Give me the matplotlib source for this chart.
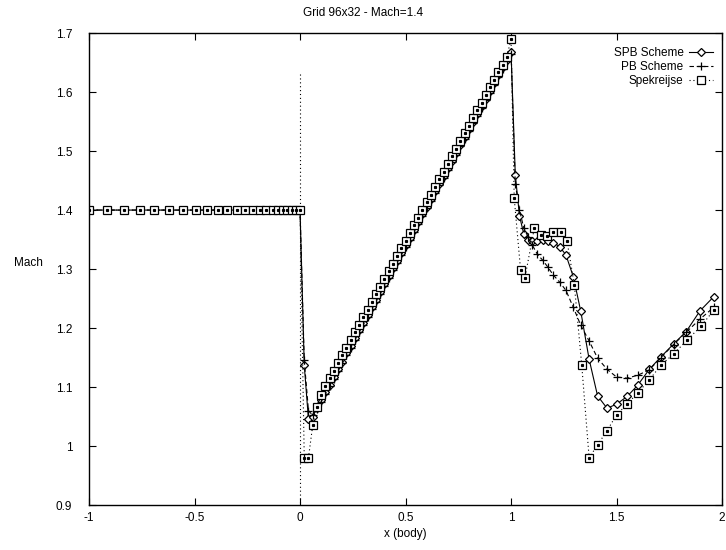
import matplotlib
matplotlib.use("Agg")
import matplotlib.pyplot as plt
from matplotlib.ticker import FuncFormatter

plt.rcParams["font.family"] = ["Liberation Sans", "DejaVu Sans"]

# grid stations upstream of the body (clustered toward x=0)
x_up = [-1.0, -0.915, -0.835, -0.76, -0.69, -0.62, -0.555, -0.495, -0.44, -0.39,
        -0.345, -0.30, -0.26, -0.225, -0.19, -0.16, -0.13, -0.105, -0.08, -0.06,
        -0.04, -0.02, 0.0]
mach_up = [1.4] * len(x_up)

# stations on the body
x_body = [0.02, 0.04, 0.06, 0.08, 0.10, 0.12, 0.14, 0.16, 0.18, 0.20,
          0.22, 0.24, 0.26, 0.28, 0.30, 0.32, 0.34, 0.36, 0.38, 0.40,
          0.42, 0.44, 0.46, 0.48, 0.50, 0.52, 0.54, 0.56, 0.58, 0.60,
          0.62, 0.64, 0.66, 0.68, 0.70, 0.72, 0.74, 0.76, 0.78, 0.80,
          0.82, 0.84, 0.86, 0.88, 0.90, 0.92, 0.94, 0.96, 0.98, 1.00]

# stations downstream of the body
x_down = [1.02, 1.04, 1.06, 1.08, 1.10, 1.125, 1.15, 1.175, 1.20, 1.23,
          1.26, 1.295, 1.33, 1.37, 1.41, 1.455, 1.50, 1.55, 1.60, 1.655,
          1.71, 1.77, 1.83, 1.895, 1.96]
spek_x_down = [1.015, 1.045, 1.065, 1.11, 1.14, 1.17, 1.20, 1.235, 1.265, 1.30,
               1.335, 1.37, 1.41, 1.455, 1.50, 1.55, 1.60, 1.655, 1.71, 1.77,
               1.835, 1.90, 1.96]

spb_body = [1.137, 1.045, 1.050, 1.065, 1.078, 1.091, 1.104, 1.117, 1.130, 1.143,
            1.157, 1.170, 1.183, 1.196, 1.209, 1.222, 1.235, 1.248, 1.261, 1.275,
            1.288, 1.301, 1.314, 1.327, 1.340, 1.353, 1.366, 1.379, 1.393, 1.406,
            1.419, 1.432, 1.445, 1.458, 1.471, 1.484, 1.497, 1.511, 1.524, 1.537,
            1.550, 1.563, 1.576, 1.589, 1.602, 1.615, 1.629, 1.642, 1.655, 1.668]
spb_down = [1.46, 1.39, 1.36, 1.35, 1.347, 1.348, 1.349, 1.348, 1.345, 1.338,
            1.324, 1.287, 1.229, 1.147, 1.085, 1.064, 1.071, 1.084, 1.103, 1.130,
            1.151, 1.173, 1.194, 1.229, 1.253]

pb_body = [1.145, 1.060, 1.052, 1.062, 1.075, 1.088, 1.101, 1.114, 1.127, 1.140,
           1.154, 1.167, 1.180, 1.193, 1.206, 1.219, 1.232, 1.245, 1.258, 1.272,
           1.285, 1.298, 1.311, 1.324, 1.337, 1.350, 1.363, 1.376, 1.390, 1.403,
           1.416, 1.429, 1.442, 1.455, 1.468, 1.481, 1.494, 1.508, 1.521, 1.534,
           1.547, 1.560, 1.573, 1.586, 1.599, 1.612, 1.626, 1.639, 1.652, 1.665]
pb_down = [1.445, 1.40, 1.37, 1.355, 1.341, 1.325, 1.315, 1.303, 1.290, 1.278,
           1.264, 1.235, 1.205, 1.178, 1.149, 1.130, 1.117, 1.115, 1.120, 1.129,
           1.150, 1.172, 1.193, 1.215, 1.235]

spek_body = [0.98, 0.98, 1.035, 1.066, 1.086, 1.102, 1.115, 1.128, 1.141, 1.154,
             1.167, 1.180, 1.193, 1.206, 1.219, 1.231, 1.244, 1.257, 1.270, 1.283,
             1.296, 1.309, 1.322, 1.335, 1.348, 1.361, 1.374, 1.387, 1.400, 1.413,
             1.426, 1.439, 1.452, 1.465, 1.478, 1.491, 1.504, 1.517, 1.530, 1.543,
             1.556, 1.569, 1.582, 1.595, 1.608, 1.621, 1.634, 1.646, 1.660, 1.690]
spek_down = [1.42, 1.299, 1.284, 1.369, 1.358, 1.356, 1.362, 1.362, 1.348, 1.273,
             1.137, 0.98, 1.002, 1.026, 1.053, 1.071, 1.090, 1.112, 1.137, 1.156,
             1.180, 1.203, 1.230]

# dotted trace along the wall at x=0
wall_x = [0.0, 0.0]
wall_y = [1.63, 0.85]

x_all = x_up + x_body + x_down
spb = mach_up + spb_body + spb_down
pb = mach_up + pb_body + pb_down
spek_x = x_up + x_body + spek_x_down
spek = mach_up + spek_body + spek_down

fig = plt.figure(figsize=(7.26, 5.5), dpi=100)
ax = fig.add_axes([0.1226, 0.0818, 0.872, 0.858])

ax.plot(wall_x, wall_y, color="black", linestyle=(0, (1, 2.5)), linewidth=0.8)
ax.plot(x_all, spb, color="black", linewidth=0.8, marker="D", markersize=4.3,
        markerfacecolor="white", markeredgewidth=0.9, label="SPB Scheme")
ax.plot(x_all, pb, color="black", linewidth=0.8, linestyle=(0, (4, 2.5)),
        marker="+", markersize=6, markeredgewidth=0.9, label="PB Scheme")
ax.plot(spek_x, spek, color="black", linewidth=0.8, linestyle=(0, (1, 2.5)),
        marker="s", markersize=5.8, markerfacecolor="white", markeredgewidth=0.9,
        label="Spekreijse")
ax.plot(spek_x, spek, linestyle="none", marker="s", markersize=1.3, color="black")

ax.set_xlim(-1, 2)
ax.set_ylim(0.9, 1.7)
ax.set_xticks([-1, -0.5, 0, 0.5, 1, 1.5, 2])
ax.set_yticks([0.9, 1.0, 1.1, 1.2, 1.3, 1.4, 1.5, 1.6, 1.7])
fmt = FuncFormatter(lambda v, p: f"{v:g}")
ax.xaxis.set_major_formatter(fmt)
ax.yaxis.set_major_formatter(fmt)
ax.tick_params(direction="in", top=True, right=True, length=5, width=0.8,
               labelsize=8.5)
ax.tick_params(axis="y", pad=12)
ax.tick_params(axis="x", pad=5)
for s in ax.spines.values():
    s.set_linewidth(1.0)

# gnuplot centres the title on the whole canvas
fig.text(0.5, 1 - 13 / 550, "Grid 96x32 - Mach=1.4", fontsize=8.5,
         ha="center", va="center")
ax.set_xlabel("x (body)", fontsize=8.5, labelpad=3)
ax.set_ylabel("Mach", fontsize=8.5, rotation=0, labelpad=0)
ax.yaxis.set_label_coords(-0.095, 0.5)

leg = ax.legend(loc="upper right", bbox_to_anchor=(0.997, 0.985), frameon=False,
                markerfirst=False, alignment="right", fontsize=8.5,
                handlelength=2.0, handletextpad=0.5, labelspacing=0.15,
                borderaxespad=0.2)

fig.savefig("out.png", dpi=100)
